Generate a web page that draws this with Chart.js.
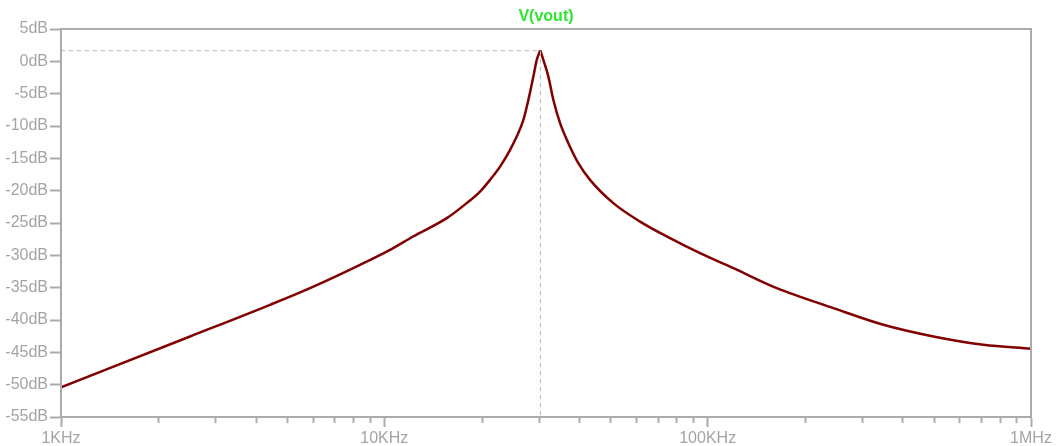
<!DOCTYPE html>
<html>
<head>
<meta charset="utf-8">
<script src="https://cdn.jsdelivr.net/npm/chart.js@4/dist/chart.umd.min.js"></script>
<style>
  html, body { margin: 0; padding: 0; background: #fff; }
  #wrap { width: 1058px; height: 446px; position: relative; }
</style>
</head>
<body>
<div id="wrap"><canvas id="c"></canvas></div>
<script>
// AC 掃頻：V(vout) 幅度響應（讀自參考圖）
const freqHz = [1000, 2506, 4432, 5890, 8410, 10410, 12270, 15600, 17980, 19770, 21230, 22800,
  24490, 25670, 26920, 27890, 28900, 29610, 30350, 31030, 32160, 33330, 34960, 37080, 39810,
  43270, 51080, 61780, 76480, 94730, 120100, 163600, 244800, 349500, 498900, 712500, 1000000];
const magDb = [-50.4, -42.55, -37.65, -35.07, -31.47, -29.15, -27.09, -24.25, -21.93, -20.14, -18.33, -16.28,
  -13.69, -11.64, -9.06, -5.98, -2.36, 0.22, 1.7, 0.22, -2.36, -5.98, -9.57, -12.66, -15.75,
  -18.33, -21.93, -24.78, -27.34, -29.66, -31.98, -35.07, -38.16, -40.74, -42.55, -43.83, -44.45];
const peakIndex = magDb.indexOf(Math.max(...magDb));

// 游標（虛線十字）
const cursorFreq = 30400;
const cursorDb = 1.65;

const xMajorTicks = [1e3, 1e4, 1e5, 1e6];
const xMajorLabels = ['1KHz', '10KHz', '100KHz', '1MHz'];
const xMinorTicks = [];
[1e3, 1e4, 1e5].forEach((d) => { for (let k = 2; k <= 9; k++) xMinorTicks.push(d * k); });
const yTicks = [5, 0, -5, -10, -15, -20, -25, -30, -35, -40, -45, -50, -55];

const AXIS = '#ababab';
const LABEL = '#a4a4a4';
const TRACE = '#820000';
const FONT = "'Liberation Sans', Arial, sans-serif";

// 外框、次刻度、標題
const frame = {
  id: 'frame',
  afterDraw(chart) {
    const { ctx, chartArea: a, scales } = chart;
    ctx.save();
    ctx.strokeStyle = AXIS;
    ctx.lineWidth = 2;
    ctx.strokeRect(a.left, a.top, a.right - a.left, a.bottom - a.top);
    ctx.beginPath();
    xMinorTicks.forEach((v) => {
      const x = Math.round(scales.x.getPixelForValue(v)) + 0.5;
      ctx.moveTo(x, a.bottom);
      ctx.lineTo(x, a.bottom + 6);
    });
    ctx.stroke();
    ctx.fillStyle = '#2ee62e';
    ctx.font = `bold 16px ${FONT}`;
    ctx.textAlign = 'center';
    ctx.textBaseline = 'middle';
    ctx.fillText('V(vout)', (a.left + a.right) / 2, 17);
    ctx.restore();
  },
};

const pts = freqHz.map((f, i) => ({ x: f, y: magDb[i] }));
// 峰值兩側各自單調平滑，峰頂保持尖銳
const trace = (data) => ({
  data,
  borderColor: TRACE,
  borderWidth: 2.5,
  pointRadius: 0,
  cubicInterpolationMode: 'monotone',
});

new Chart(document.getElementById('c'), {
  type: 'line',
  data: {
    datasets: [
      {
        label: 'cursor',
        data: [{ x: 1000, y: cursorDb }, { x: cursorFreq, y: cursorDb }, { x: cursorFreq, y: -55 }],
        borderColor: '#b8b8b8',
        borderWidth: 1,
        borderDash: [4, 4],
        pointRadius: 0,
        tension: 0,
      },
      trace(pts.slice(0, peakIndex + 1)),
      trace(pts.slice(peakIndex)),
    ],
  },
  options: {
    responsive: true,
    maintainAspectRatio: false,
    animation: false,
    layout: { padding: { top: 29, right: 27, left: 0, bottom: 0 } },
    plugins: { legend: { display: false }, tooltip: { enabled: false } },
    scales: {
      x: {
        type: 'logarithmic',
        min: 1e3,
        max: 1e6,
        afterBuildTicks: (s) => { s.ticks = xMajorTicks.map((v) => ({ value: v })); },
        afterFit: (s) => { s.height = 29; },
        grid: { drawOnChartArea: false, tickLength: 10, tickColor: AXIS, tickWidth: 2 },
        border: { color: AXIS, width: 2 },
        ticks: {
          autoSkip: false,
          maxRotation: 0,
          padding: 2,
          color: LABEL,
          font: { family: FONT, size: 16 },
          callback: (v) => xMajorLabels[xMajorTicks.indexOf(v)] || '',
        },
      },
      y: {
        min: -55,
        max: 5,
        afterBuildTicks: (s) => { s.ticks = yTicks.map((v) => ({ value: v })); },
        afterFit: (s) => { s.width = 61; },
        grid: { drawOnChartArea: false, tickLength: 11, tickColor: AXIS, tickWidth: 2 },
        border: { color: AXIS, width: 2 },
        ticks: {
          padding: 2,
          color: LABEL,
          font: { family: FONT, size: 16 },
          callback: (v) => `${v}dB`,
        },
      },
    },
  },
  plugins: [frame],
});
</script>
</body>
</html>
